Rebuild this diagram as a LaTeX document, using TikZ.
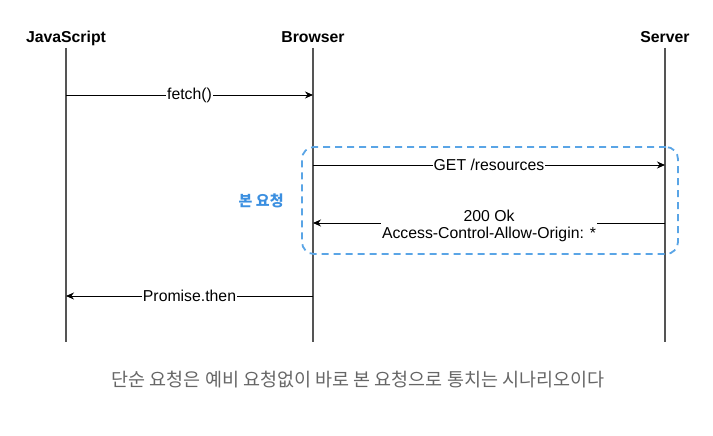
\documentclass[tikz,border=0pt]{standalone}
\usepackage{fontspec}
\setmainfont{Liberation Sans}
\newfontfamily\krfont{Noto Sans CJK KR}
\usetikzlibrary{arrows.meta,positioning,calc}
\definecolor{reqblue}{HTML}{5AA5E6}
\definecolor{tagblue}{HTML}{3B8FE0}
\definecolor{lifegray}{HTML}{555555}
\definecolor{capgray}{HTML}{666666}

\begin{document}
\begin{tikzpicture}[
    x=1pt, y=-1pt,
    actor/.style={font=\fontsize{15.8}{18}\selectfont\bfseries, inner sep=0pt, anchor=base},
    life/.style={draw=lifegray, line width=1.2pt},
    msg/.style={-{Stealth[length=8pt, width=7pt]}, line width=0.9pt},
    lbl/.style={fill=white, inner sep=1pt, font=\fontsize{15.8}{17}\selectfont, align=center},
    frame/.style={draw=reqblue, line width=1.8pt, dash pattern=on 7pt off 5pt, rounded corners=12pt,
                  minimum width=376pt, minimum height=107pt},
    tag/.style={text=tagblue, font=\krfont\bfseries\fontsize{15}{17}\selectfont},
]
    \useasboundingbox (0,0) rectangle (713,436);

    % actors and lifelines
    \node[actor] (js) at (66,43) {JavaScript};
    \node[actor] (browser) at (313,43) {Browser};
    \node[actor] (server) at (665,43) {Server};
    \foreach \a in {js,browser,server} {
        \coordinate (\a-top) at ($(\a.base)+(0,5)$);
        \coordinate (\a-end) at ($(\a.base)+(0,299)$);
        \draw[life] (\a-top) -- (\a-end);
    }

    % message points on the lifelines
    \coordinate (js-fetch) at (66,95);
    \coordinate (browser-fetch) at (313,95);
    \coordinate (browser-get) at (313,165);
    \coordinate (server-get) at (665,165);
    \coordinate (server-ok) at (665,223);
    \coordinate (browser-ok) at (313,223);
    \coordinate (browser-then) at (313,296);
    \coordinate (js-then) at (66,296);

    % main request frame
    \node[frame] (main) at (490,200.5) {};
    \node[tag, left=14pt of main] (maintag) {본 요청};

    % messages
    \draw[msg] (js-fetch) -- node[lbl] {fetch()} (browser-fetch);
    \draw[msg] (browser-get) -- node[lbl] {GET /resources} (server-get);
    \draw[msg] (server-ok) -- node[lbl, yshift=-3pt] {200 Ok\\Access-Control-Allow-Origin: *} (browser-ok);
    \draw[msg] (browser-then) -- node[lbl] {Promise.then} (js-then);

    \node[text=capgray, font=\krfont\fontsize{18.5}{21}\selectfont] (caption) at (358,380)
        {단순 요청은 예비 요청없이 바로 본 요청으로 통치는 시나리오이다};
\end{tikzpicture}
\end{document}
